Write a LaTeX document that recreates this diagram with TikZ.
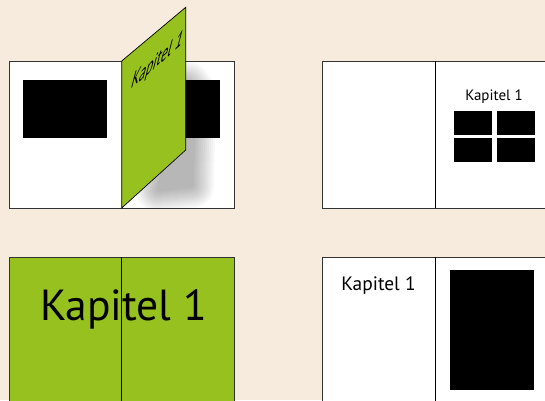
\documentclass[tikz,border=0pt]{standalone}
\usepackage{fontspec}
\setmainfont{PT Sans}
\definecolor{bg}{RGB}{246,235,220}
\definecolor{pagegreen}{RGB}{150,193,30}
\begin{document}
\begin{tikzpicture}[x=1pt,y=-1pt,
  page/.style={draw=black!80, line width=0.8pt},
  spine/.style={draw=black, line width=0.7pt},
  blk/.style={fill=black},
  lbl/.style={inner sep=0pt, text=black}]
\useasboundingbox[fill=bg] (0,0) rectangle (545,400);
% ---------- top left book ----------
\fill[white] (9,61) rectangle (234,208);
\fill[blk] (23,80) rectangle (107,138);
\begin{scope}
  \clip (121.7,61) rectangle (234,208);
  \foreach \w in {4,8,...,44}{
    \begin{scope}[transparency group, opacity=0.028]
      \filldraw[black, line width=\w pt, line join=round]
        (158,190) -- (192,186) -- (194,92) -- (188,84) -- cycle;
    \end{scope}
  }
\end{scope}
\fill[blk] (185,80) rectangle (220,138);
\draw[page] (9,61) rectangle (234,208);
\coordinate (gA) at (121.7,61);
\coordinate (gB) at (185.7,7.3);
\coordinate (gC) at (185.7,150);
\coordinate (gD) at (121.7,208);
\filldraw[fill=pagegreen, spine] (gA) -- (gB) -- (gC) -- (gD) -- cycle;
\node[lbl, anchor=base west, cm={0.95,0.83,0.45,1.75,(0,0)}, font=\fontsize{14}{14}\selectfont] (t1) at (130,90) {Kapitel 1};
% ---------- top right book ----------
\fill[white] (322.7,61) rectangle (545,208);
\draw[page] (545,61) -- (322.7,61) -- (322.7,208) -- (545,208);
\draw[spine] (435.7,61) -- (435.7,208);
\node[lbl, anchor=base, font=\fontsize{15}{15}\selectfont] (t2) at (494,100) {Kapitel 1};
\fill[blk] (454,111) rectangle (492,135);
\fill[blk] (497,111) rectangle (535,135);
\fill[blk] (454,138) rectangle (492,162);
\fill[blk] (497,138) rectangle (535,162);
% ---------- bottom left book ----------
\fill[pagegreen] (9,257) rectangle (234,401);
\draw[page] (9,401) -- (9,257) -- (234,257) -- (234,401);
\draw[spine] (121.7,257) -- (121.7,401);
\node[lbl, anchor=base, font=\fontsize{43.5}{43.5}\selectfont] (t3) at (123.5,320) {Kapitel 1};
% ---------- bottom right book ----------
\fill[white] (322.7,257) rectangle (545,401);
\draw[page] (322.7,401) -- (322.7,257) -- (545,257);
\draw[spine] (435.7,257) -- (435.7,401);
\node[lbl, anchor=base, font=\fontsize{19.4}{19.4}\selectfont] (t4) at (378.5,290) {Kapitel 1};
\fill[blk] (450,270) rectangle (534,390);
\end{tikzpicture}
\end{document}
